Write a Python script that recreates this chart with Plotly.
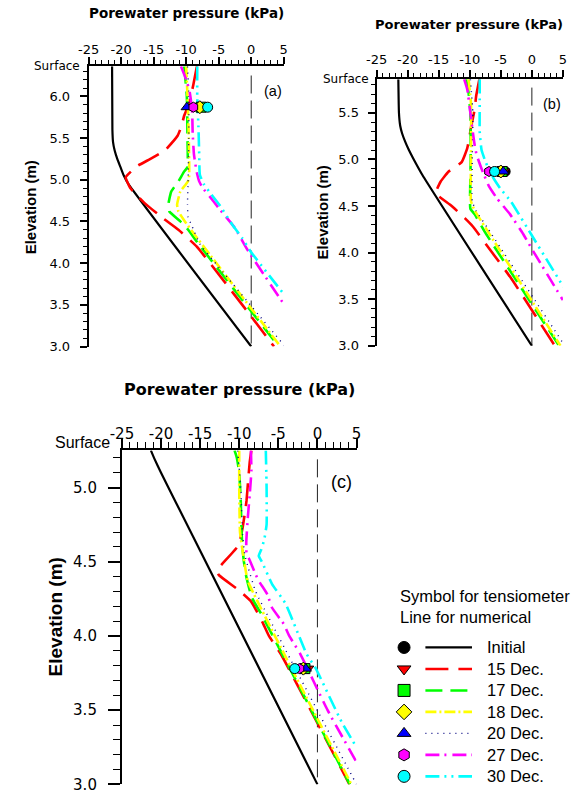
import plotly.graph_objects as go

W, H = 575, 800

# ---------------- series definitions ----------------
SERIES = ["Initial", "15 Dec.", "17 Dec.", "18 Dec.", "20 Dec.", "27 Dec.", "30 Dec."]
LINE_COLORS = ["#000000", "#ff0000", "#00ff00", "#ffff00", "#000080", "#ff00ff", "#00ffff"]
MARKER_COLORS = ["#000000", "#ff0000", "#00ff00", "#ffff00", "#0000ff", "#ff00ff", "#00ffff"]
SYMBOLS = ["circle", "triangle-down", "square", "diamond", "triangle-up", "hexagon", "circle"]
DASHES = ["solid", "23px,10px", "17px,8px", "11px,3px,2px,3px", "1px,5px",
          "14px,5px,2px,6px", "14px,5px,2px,5px,2px,5px"]
WIDTHS = [2.2, 2.6, 2.6, 2.6, 1.4, 2.6, 2.6]

X_TICKS = [-25, -20, -15, -10, -5, 0, 5]
X_TICK_TEXT = ["-25", "-20", "-15", "-10", "-5", "0", "5"]

# ---------------- panel (a) ----------------
A_TOP = 6.36
A_Y_TICKS = [3.0, 3.5, 4.0, 4.5, 5.0, 5.5, 6.0]
A_Y_TICK_TEXT = ["3.0", "3.5", "4.0", "4.5", "5.0", "5.5", "6.0"]
A_ZERO_TOP = 6.25

A_Z_INIT = [6.36, 5.6, 5.45, 5.35, 5.25, 5.15, 5.05, 4.95, 3.0]
A_P_INIT = [-21.4, -21.35, -21.25, -21.0, -20.6, -20.1, -19.6, -18.9, 0.0]
A_Z_D15 = [6.36, 6.14, 5.9, 5.77, 5.65, 5.53, 5.35, 5.25, 5.17, 5.12, 5.03, 4.9, 4.72, 4.54, 4.4, 4.2, 3.36, 3.0]
A_P_D15 = [-8.35, -8.9, -9.6, -10.3, -10.7, -11.3, -13.3, -15.5, -17.4, -18.2, -19.3, -18.6, -16.4, -13.6, -11.2, -8.4, 0.0, 3.5]
A_Z_D17 = [6.36, 6.0, 5.5, 5.15, 5.1, 4.98, 4.86, 4.72, 4.62, 4.5, 4.4, 4.24, 3.0]
A_P_D17 = [-10.3, -9.9, -9.8, -9.8, -10.3, -11.2, -12.3, -12.7, -12.6, -10.9, -9.7, -8.2, 4.25]
A_Z_D18 = [6.36, 6.0, 5.5, 5.0, 4.93, 4.86, 4.7, 4.62, 4.5, 4.34, 3.0]
A_P_D18 = [-10.0, -9.8, -9.6, -9.6, -10.2, -10.9, -11.4, -11.2, -10.2, -8.7, 4.5]
A_Z_D20 = [6.36, 6.0, 5.5, 5.0, 4.7, 4.55, 4.46, 4.23, 3.99, 3.0]
A_P_D20 = [-9.8, -9.6, -9.6, -9.7, -9.8, -9.7, -9.2, -7.9, -5.4, 5.2]
A_Z_D27 = [6.36, 6.2, 6.07, 5.85, 5.55, 5.3, 5.1, 4.98, 4.9, 4.8, 4.66, 4.42, 4.15, 3.51]
A_P_D27 = [-10.8, -10.0, -9.5, -9.1, -9.0, -8.8, -8.4, -8.0, -7.45, -6.4, -5.0, -2.5, -0.5, 5.0]
A_Z_D30 = [6.36, 6.0, 5.6, 5.3, 5.06, 4.95, 4.84, 4.7, 4.46, 4.3, 4.13, 3.63]
A_P_D30 = [-8.3, -8.3, -8.1, -8.0, -7.9, -7.3, -6.3, -4.9, -2.9, -1.4, 0.0, 5.0]
A_TENS_Z = 5.87
A_TENS_P = [-8.0, -7.8, -7.7, -7.9, -9.9, -8.9, -6.7]

# ---------------- panel (b) ----------------
B_TOP = 5.86
B_Y_TICKS = [3.0, 3.5, 4.0, 4.5, 5.0, 5.5]
B_Y_TICK_TEXT = ["3.0", "3.5", "4.0", "4.5", "5.0", "5.5"]
B_ZERO_TOP = 5.77

B_Z_INIT = [5.86, 5.5, 5.36, 5.28, 5.19, 5.1, 5.01, 4.83, 3.0]
B_P_INIT = [-21.5, -21.4, -21.2, -20.9, -20.4, -19.8, -19.1, -17.6, 0.0]
B_Z_D15 = [5.86, 5.68, 5.54, 5.36, 5.26, 5.12, 4.97, 4.87, 4.76, 4.64, 4.62, 4.51, 4.37, 4.28, 4.0, 3.74, 3.0]
B_P_D15 = [-8.45, -8.97, -9.2, -9.75, -10.0, -10.4, -11.3, -13.4, -14.7, -15.5, -15.3, -13.1, -10.8, -9.5, -6.4, -3.5, 3.7]
B_Z_D17 = [5.86, 5.72, 5.5, 5.0, 4.6, 4.47, 4.41, 4.23, 3.0]
B_P_D17 = [-10.6, -10.2, -9.9, -9.85, -9.95, -9.9, -9.2, -7.65, 4.4]
B_Z_D18 = [5.86, 5.6, 5.0, 4.55, 4.45, 4.27, 3.0]
B_P_D18 = [-10.2, -9.8, -9.8, -9.8, -9.2, -7.5, 4.6]
B_Z_D20 = [5.86, 5.5, 5.0, 4.55, 4.45, 4.27, 3.0]
B_P_D20 = [-9.9, -9.5, -9.6, -9.6, -9.0, -7.2, 5.3]
B_Z_D27 = [5.86, 5.75, 5.5, 5.29, 5.15, 5.05, 4.9, 4.71, 4.58, 4.41, 4.2, 4.05, 3.49]
B_P_D27 = [-10.9, -10.4, -9.9, -9.5, -9.2, -8.9, -8.1, -6.9, -5.6, -3.5, -1.4, -0.1, 5.0]
B_Z_D30 = [5.86, 5.6, 5.3, 5.1, 5.0, 4.9, 4.8, 4.69, 4.55, 4.14, 3.63]
B_P_D30 = [-8.4, -8.4, -8.4, -8.1, -7.6, -7.0, -6.2, -5.1, -3.4, 0.4, 5.1]
B_TENS_Z = 4.87
B_TENS_P = [-4.3, -4.5, -4.8, -5.0, -4.6, -6.9, -6.0]

# ---------------- panel (c) ----------------
C_TOP = 5.25
C_Y_TICKS = [3.0, 3.5, 4.0, 4.5, 5.0]
C_Y_TICK_TEXT = ["3.0", "3.5", "4.0", "4.5", "5.0"]
C_ZERO_TOP = 5.19

C_Z_INIT = [5.25, 5.2, 5.1, 4.9, 3.0]
C_P_INIT = [-21.3, -20.9, -20.0, -18.1, 0.0]
C_Z_D15 = [5.25, 5.17, 5.04, 4.91, 4.82, 4.72, 4.61, 4.46, 4.435, 4.41, 4.31, 4.23, 4.09, 4.0, 3.88, 3.0]
C_P_D15 = [-8.45, -8.66, -8.87, -9.07, -9.3, -9.6, -10.1, -12.6, -12.8, -12.6, -10.1, -8.45, -7.0, -6.2, -4.7, 4.1]
C_Z_D17 = [5.25, 5.2, 5.1, 4.9, 4.7, 4.6, 4.5, 4.4, 4.26, 4.15, 3.0]
C_P_D17 = [-10.6, -10.3, -10.0, -9.8, -9.7, -9.6, -9.4, -9.1, -8.4, -7.2, 4.15]
C_Z_D18 = [5.25, 5.0, 4.7, 4.55, 4.45, 4.37, 3.0]
C_P_D18 = [-10.0, -10.0, -9.9, -9.5, -9.2, -8.9, 4.35]
C_Z_D20 = [5.25, 5.0, 4.7, 4.55, 4.45, 4.3, 3.0]
C_P_D20 = [-10.2, -9.8, -9.6, -9.3, -8.8, -7.9, 5.0]
C_Z_D27 = [5.25, 5.11, 4.95, 4.8, 4.63, 4.56, 4.51, 4.38, 4.28, 4.19, 4.08, 4.0, 3.88, 3.5, 3.15]
C_P_D27 = [-8.5, -8.45, -8.66, -8.9, -9.1, -9.07, -8.66, -7.6, -6.4, -5.8, -4.3, -3.6, -2.2, 1.3, 5.0]
C_Z_D30 = [5.25, 5.0, 4.75, 4.65, 4.58, 4.54, 4.5, 4.35, 4.22, 3.88, 3.78, 3.42, 3.25]
C_P_D30 = [-6.6, -6.5, -6.5, -6.8, -7.2, -7.5, -7.1, -5.8, -4.1, -1.4, -0.2, 3.1, 5.0]
C_TENS_Z = 3.78
C_TENS_P = [-1.8, -1.2, -1.6, -1.8, -1.5, -2.3, -2.9]

PANELS = [
    dict(label="(a)", top=A_TOP, yt=A_Y_TICKS, ytt=A_Y_TICK_TEXT, zero_top=A_ZERO_TOP,
         z=[A_Z_INIT, A_Z_D15, A_Z_D17, A_Z_D18, A_Z_D20, A_Z_D27, A_Z_D30],
         p=[A_P_INIT, A_P_D15, A_P_D17, A_P_D18, A_P_D20, A_P_D27, A_P_D30],
         tz=A_TENS_Z, tp=A_TENS_P),
    dict(label="(b)", top=B_TOP, yt=B_Y_TICKS, ytt=B_Y_TICK_TEXT, zero_top=B_ZERO_TOP,
         z=[B_Z_INIT, B_Z_D15, B_Z_D17, B_Z_D18, B_Z_D20, B_Z_D27, B_Z_D30],
         p=[B_P_INIT, B_P_D15, B_P_D17, B_P_D18, B_P_D20, B_P_D27, B_P_D30],
         tz=B_TENS_Z, tp=B_TENS_P),
    dict(label="(c)", top=C_TOP, yt=C_Y_TICKS, ytt=C_Y_TICK_TEXT, zero_top=C_ZERO_TOP,
         z=[C_Z_INIT, C_Z_D15, C_Z_D17, C_Z_D18, C_Z_D20, C_Z_D27, C_Z_D30],
         p=[C_P_INIT, C_P_D15, C_P_D17, C_P_D18, C_P_D20, C_P_D27, C_P_D30],
         tz=C_TENS_Z, tp=C_TENS_P),
]

# ---------------- layout geometry (pixels) ----------------
# left, right, top, bottom of each plot area
BOXES = [(79, 280, 67, 350), (375.7, 567.7, 80, 349.3), (113.3, 355, 455, 792.3)]
STYLE = [
    dict(tick_font=13, xlen=7, xminor=4.3, ylen=7, yminor=4, xstand=-2, ystand=7,
         title_font=13.5, title_xy=(180, 13), elev_font=15, elev_xy=(20, 209),
         surf_font=12, surf_xy=(72, 67), lab_font=14.5, lab_xy=(269, 92), surf_family="DejaVu Sans"),
    dict(tick_font=13, xlen=7, xminor=4.3, ylen=7, yminor=4, xstand=1, ystand=6,
         title_font=13, title_xy=(471, 25), elev_font=15, elev_xy=(320, 215),
         surf_font=12, surf_xy=(370, 80), lab_font=14.5, lab_xy=(556, 105), surf_family="DejaVu Sans"),
    dict(tick_font=15, xlen=10, xminor=6, ylen=12, yminor=7, xstand=-7, ystand=8,
         title_font=16, title_xy=(234, 393), elev_font=19, elev_xy=(45, 623),
         surf_font=16, surf_xy=(103, 447), lab_font=18, lab_xy=(340, 487), surf_family="Liberation Sans"),
]

TICK_FAMILY = "DejaVu Sans"
ARIAL = "Liberation Sans, Arial, sans-serif"

fig = go.Figure()
annotations = []


def px2paper_x(v):
    return v / W


def px2paper_y(v):
    return 1 - v / H


for i, (panel, box, st) in enumerate(zip(PANELS, BOXES, STYLE)):
    n = "" if i == 0 else str(i + 1)
    xa, ya = "x" + n, "y" + n
    # zero pressure reference line
    fig.add_trace(go.Scatter(x=[0, 0], y=[panel["zero_top"], 3.0], mode="lines",
                             line=dict(color="#222222", width=1, dash="18px,7px"),
                             xaxis=xa, yaxis=ya, showlegend=False, hoverinfo="skip"))
    # numerical lines
    for k in range(len(SERIES)):
        fig.add_trace(go.Scatter(x=panel["p"][k], y=panel["z"][k], mode="lines",
                                 line=dict(color=LINE_COLORS[k], width=WIDTHS[k], dash=DASHES[k],
                                           shape="spline", smoothing=0.4),
                                 xaxis=xa, yaxis=ya, showlegend=False, name=SERIES[k]))
    # tensiometer symbols
    for k in range(len(SERIES)):
        fig.add_trace(go.Scatter(x=[panel["tp"][k]], y=[panel["tz"]], mode="markers",
                                 marker=dict(symbol=SYMBOLS[k], color=MARKER_COLORS[k], size=10,
                                             line=dict(color="black", width=1)),
                                 xaxis=xa, yaxis=ya, showlegend=False, name=SERIES[k]))

    l, r, t, b = box
    common = dict(showline=True, linecolor="black", linewidth=2, ticks="outside",
                  tickcolor="black", tickwidth=1.5, showgrid=False, zeroline=False,
                  fixedrange=True, tickmode="array",
                  tickfont=dict(family=TICK_FAMILY, size=st["tick_font"], color="black"))
    fig.update_layout(**{
        ("xaxis" + n): dict(common, domain=[px2paper_x(l), px2paper_x(r)], range=[-25, 5],
                            side="top", anchor=ya, tickvals=X_TICKS, ticktext=X_TICK_TEXT,
                            ticklen=st["xlen"], ticklabelstandoff=st["xstand"],
                            minor=dict(tickmode="linear", tick0=-25, dtick=1, ticks="outside",
                                       ticklen=st["xminor"], tickwidth=1.3, tickcolor="black",
                                       showgrid=False)),
        ("yaxis" + n): dict(common, domain=[px2paper_y(b), px2paper_y(t)],
                            range=[3.0, panel["top"]], side="left", anchor=xa,
                            tickvals=panel["yt"], ticktext=panel["ytt"],
                            ticklen=st["ylen"], ticklabelstandoff=st["ystand"],
                            minor=dict(tickmode="linear", tick0=3.0, dtick=0.1, ticks="outside",
                                       ticklen=st["yminor"], tickwidth=1.3, tickcolor="black",
                                       showgrid=False)),
    })

    annotations.append(dict(text="<b>Porewater pressure (kPa)</b>", xref="paper", yref="paper",
                            x=px2paper_x(st["title_xy"][0]), y=px2paper_y(st["title_xy"][1]),
                            xanchor="center", yanchor="middle", showarrow=False,
                            font=dict(family=TICK_FAMILY, size=st["title_font"], color="black")))
    annotations.append(dict(text="<b>Elevation (m)</b>", xref="paper", yref="paper", textangle=-90,
                            x=px2paper_x(st["elev_xy"][0]), y=px2paper_y(st["elev_xy"][1]),
                            xanchor="center", yanchor="middle", showarrow=False,
                            font=dict(family=ARIAL, size=st["elev_font"], color="black")))
    annotations.append(dict(text="Surface", xref="paper", yref="paper",
                            x=px2paper_x(st["surf_xy"][0]), y=px2paper_y(st["surf_xy"][1]),
                            xanchor="right", yanchor="middle", showarrow=False,
                            font=dict(family=st["surf_family"], size=st["surf_font"], color="black")))
    annotations.append(dict(text=panel["label"], xref="paper", yref="paper",
                            x=px2paper_x(st["lab_xy"][0]), y=px2paper_y(st["lab_xy"][1]),
                            xanchor="center", yanchor="middle", showarrow=False,
                            font=dict(family=ARIAL, size=st["lab_font"], color="black")))

# ---------------- custom legend ----------------
LEG_HEADER = ["Symbol for tensiometer", "Line for numerical"]
LEG_HEADER_Y = [602, 623]
LEG_X_SYMBOL, LEG_X_LINE0, LEG_X_LINE1, LEG_X_TEXT = 404, 426, 474, 487
LEG_ROW0, LEG_ROW_STEP = 654, 21.7

for k in range(len(SERIES)):
    yrow = LEG_ROW0 + k * LEG_ROW_STEP
    fig.add_trace(go.Scatter(x=[LEG_X_LINE0, LEG_X_LINE1], y=[yrow, yrow], mode="lines",
                             line=dict(color=LINE_COLORS[k], width=WIDTHS[k], dash=DASHES[k]),
                             xaxis="x4", yaxis="y4", showlegend=False, hoverinfo="skip"))
    fig.add_trace(go.Scatter(x=[LEG_X_SYMBOL], y=[yrow], mode="markers",
                             marker=dict(symbol=SYMBOLS[k], color=MARKER_COLORS[k], size=12,
                                         line=dict(color="black", width=1)),
                             xaxis="x4", yaxis="y4", showlegend=False, hoverinfo="skip"))
    annotations.append(dict(text=SERIES[k], xref="paper", yref="paper",
                            x=px2paper_x(LEG_X_TEXT), y=px2paper_y(yrow),
                            xanchor="left", yanchor="middle", showarrow=False,
                            font=dict(family=ARIAL, size=16.5, color="black")))
for txt, yy in zip(LEG_HEADER, LEG_HEADER_Y):
    annotations.append(dict(text=txt, xref="paper", yref="paper",
                            x=px2paper_x(398), y=px2paper_y(yy),
                            xanchor="left", yanchor="middle", showarrow=False,
                            font=dict(family=ARIAL, size=16.5, color="black")))

fig.update_layout(
    xaxis4=dict(domain=[px2paper_x(380), 1], range=[380, 575], visible=False, fixedrange=True,
                anchor="y4"),
    yaxis4=dict(domain=[0, px2paper_y(590)], range=[800, 590], visible=False, fixedrange=True,
                anchor="x4"),
    width=W, height=H, margin=dict(l=0, r=0, t=0, b=0),
    paper_bgcolor="white", plot_bgcolor="rgba(0,0,0,0)",
    showlegend=False, annotations=annotations,
)

fig.write_html("out.html", config={"displayModeBar": False})
